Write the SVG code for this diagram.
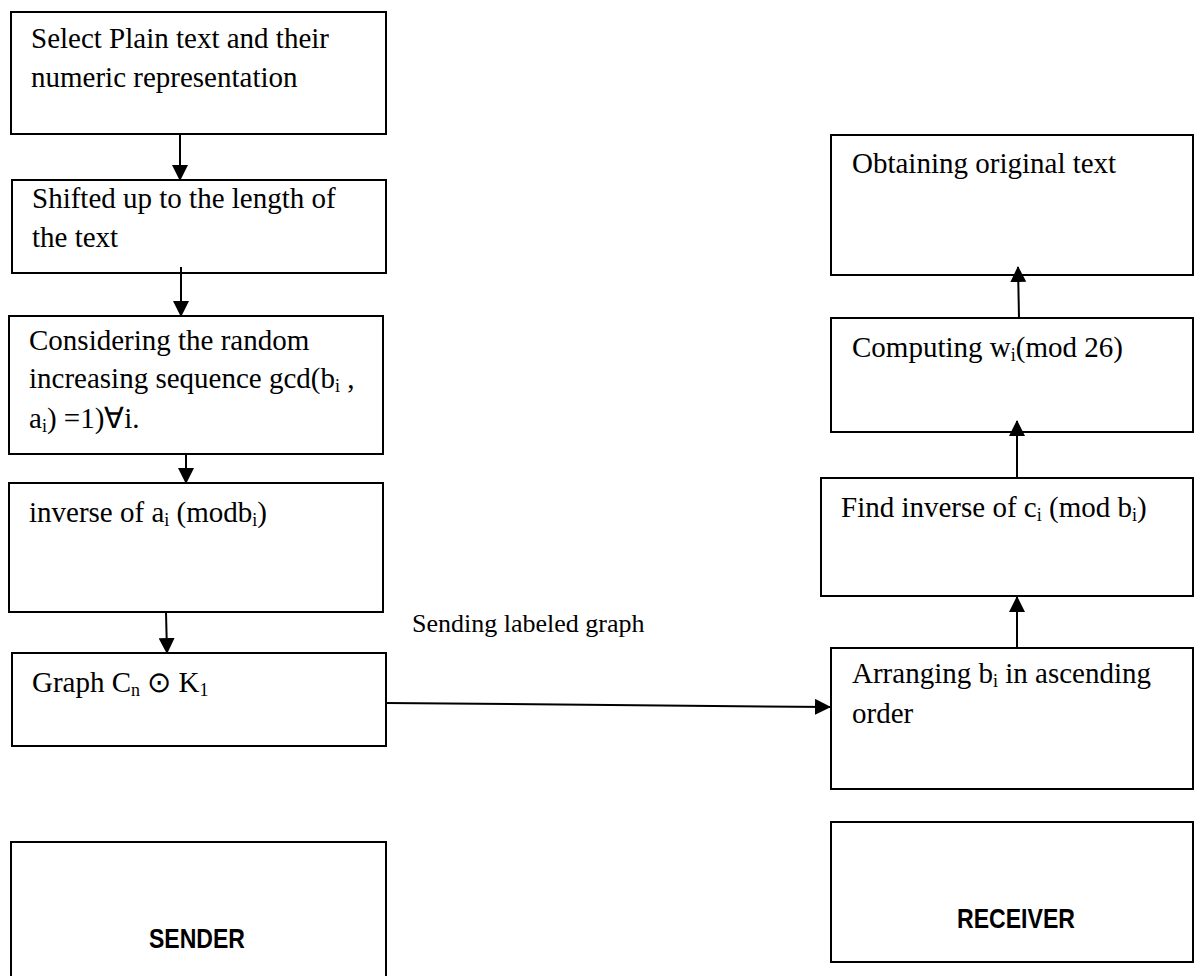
<svg xmlns="http://www.w3.org/2000/svg" width="1195" height="976" viewBox="0 0 1195 976">
  <style>
    .box { fill: #ffffff; stroke: #000000; stroke-width: 2; }
    .t { font-family: "Liberation Serif", "Times New Roman", serif; font-size: 29px; fill: #000000; }
    .lbl { font-family: "Liberation Serif", "Times New Roman", serif; font-size: 26px; fill: #000000; }
    .sub { font-size: 18px; }
    .role { font-family: "Liberation Sans Narrow", "Arial Narrow", "Liberation Sans", sans-serif; font-weight: bold; font-size: 28px; fill: #000000; }
    .edge { stroke: #000000; stroke-width: 2; fill: none; marker-end: url(#arrow); }
  </style>
  <defs>
    <marker id="arrow" markerUnits="userSpaceOnUse" markerWidth="16" markerHeight="16" refX="15" refY="8" orient="auto">
      <path d="M0,0 L16,8 L0,16 z" fill="#000000"/>
    </marker>
  </defs>
  <rect width="1195" height="976" fill="#ffffff"/>

  <g id="node-select">
    <rect class="box" x="11" y="12" width="375" height="122"/>
    <text class="t" x="31" y="48">Select Plain text and their</text>
    <text class="t" x="31" y="87">numeric representation</text>
  </g>

  <g id="node-shifted">
    <rect class="box" x="12" y="180" width="374" height="93"/>
    <text class="t" x="32" y="208">Shifted up to the length of</text>
    <text class="t" x="32" y="247">the text</text>
  </g>

  <g id="node-considering">
    <rect class="box" x="9" y="316" width="374" height="138"/>
    <text class="t" x="29" y="350">Considering the random</text>
    <text class="t" x="29" y="388">increasing sequence gcd(b<tspan class="sub" dy="4">i</tspan><tspan dy="-4"> ,</tspan></text>
    <text class="t" x="29" y="428">a<tspan class="sub" dy="4">i</tspan><tspan dy="-4">) =1)∀i.</tspan></text>
  </g>

  <g id="node-inverse">
    <rect class="box" x="9" y="483" width="374" height="129"/>
    <text class="t" x="29" y="522">inverse of a<tspan class="sub" dy="4">i</tspan><tspan dy="-4"> (modb</tspan><tspan class="sub" dy="4">i</tspan><tspan dy="-4">)</tspan></text>
  </g>

  <g id="node-graph">
    <rect class="box" x="12" y="653" width="374" height="93"/>
    <text class="t" x="32" y="692">Graph C<tspan class="sub" dy="4">n</tspan><tspan dy="-4"> ⊙ K</tspan><tspan class="sub" dy="4">1</tspan></text>
  </g>

  <g id="node-sender">
    <rect class="box" x="11" y="842" width="375" height="150"/>
    <text class="role" x="149" y="948" textLength="96" lengthAdjust="spacingAndGlyphs">SENDER</text>
  </g>

  <g id="node-obtaining">
    <rect class="box" x="831" y="135" width="362" height="140"/>
    <text class="t" x="852" y="173">Obtaining original text</text>
  </g>

  <g id="node-computing">
    <rect class="box" x="831" y="318" width="362" height="114"/>
    <text class="t" x="852" y="357">Computing w<tspan class="sub" dy="4">i</tspan><tspan dy="-4">(mod 26)</tspan></text>
  </g>

  <g id="node-find">
    <rect class="box" x="821" y="478" width="372" height="118"/>
    <text class="t" x="841" y="517">Find inverse of c<tspan class="sub" dy="4">i</tspan><tspan dy="-4"> (mod b</tspan><tspan class="sub" dy="4">i</tspan><tspan dy="-4">)</tspan></text>
  </g>

  <g id="node-arranging">
    <rect class="box" x="831" y="648" width="362" height="141"/>
    <text class="t" x="852" y="683">Arranging b<tspan class="sub" dy="4">i</tspan><tspan dy="-4"> in ascending</tspan></text>
    <text class="t" x="852" y="723">order</text>
  </g>

  <g id="node-receiver">
    <rect class="box" x="831" y="822" width="362" height="140"/>
    <text class="role" x="957" y="928" textLength="118" lengthAdjust="spacingAndGlyphs">RECEIVER</text>
  </g>

  <g id="connectors">
    <line class="edge" x1="180" y1="134" x2="180" y2="180"/>
    <line class="edge" x1="181" y1="267" x2="181" y2="316"/>
    <line class="edge" x1="186" y1="454" x2="186" y2="483"/>
    <line class="edge" x1="166" y1="612" x2="167" y2="653"/>
    <line class="edge" x1="386" y1="703" x2="830" y2="707"/>
    <text class="lbl" x="412" y="632">Sending labeled graph</text>
    <line class="edge" x1="1017" y1="648" x2="1017" y2="597"/>
    <line class="edge" x1="1017" y1="478" x2="1017" y2="421"/>
    <line class="edge" x1="1019" y1="318" x2="1018" y2="267"/>
  </g>
</svg>
